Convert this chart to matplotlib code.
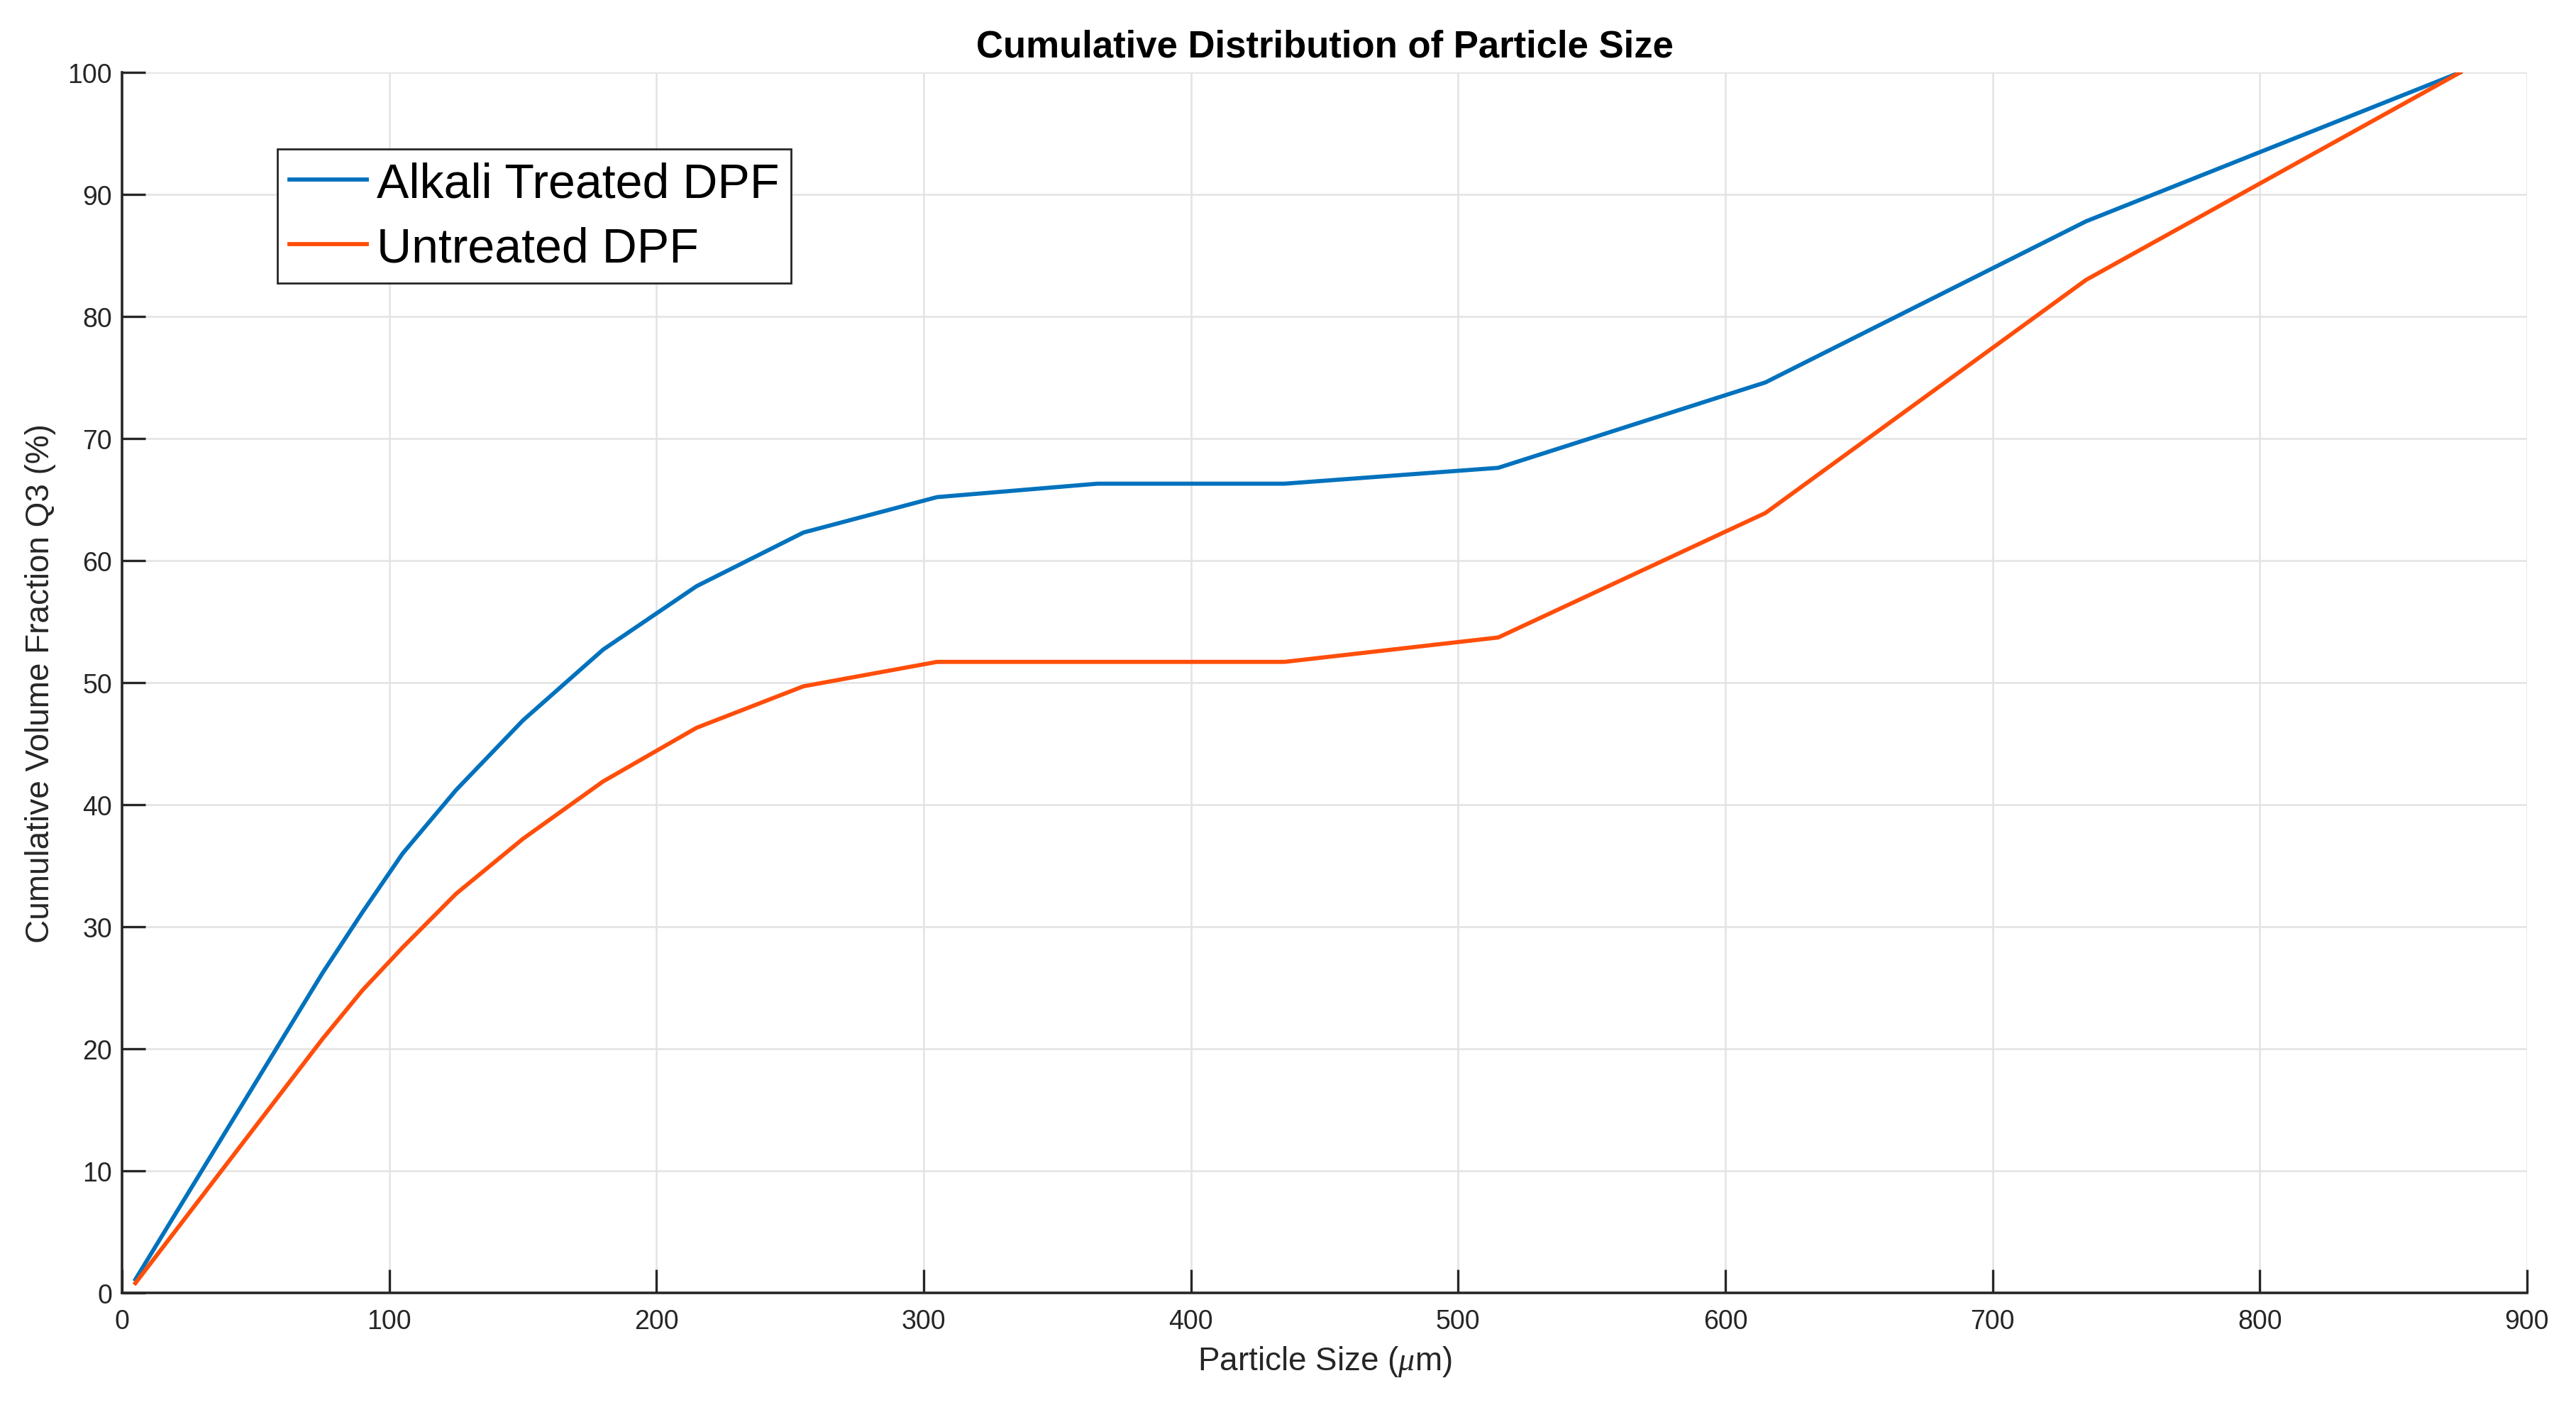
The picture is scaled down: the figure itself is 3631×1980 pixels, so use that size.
import numpy as np
import matplotlib.pyplot as plt

plt.rcParams['font.family'] = ['Liberation Sans', 'DejaVu Sans']
plt.rcParams['mathtext.fontset'] = 'custom'
plt.rcParams['mathtext.it'] = 'Liberation Serif:italic'

# Data
size_um = [5, 75, 90, 105, 125, 150, 180, 215, 255, 305, 365, 435, 515, 615, 735, 875]
alkali = [1.1, 26.2, 31.2, 36.0, 41.2, 46.9, 52.7, 57.9, 62.3, 65.2, 66.3, 66.3, 67.6, 74.6, 87.8, 100.0]
untreated = [0.8, 20.8, 24.8, 28.3, 32.7, 37.2, 41.9, 46.3, 49.7, 51.7, 51.7, 51.7, 53.7, 63.9, 83.0, 100.0]

x_ticks = np.arange(0, 901, 100)
y_ticks = np.arange(0, 101, 10)

dark = '#262626'

fig = plt.figure(figsize=(3631 / 200, 1981 / 200), dpi=200)
ax = fig.add_axes([172 / 3631, 1 - 1823 / 1981, (3562 - 172) / 3631, (1823 - 103) / 1981])

ax.plot(size_um, alkali, color='#0072BD', lw=2.1, label='Alkali Treated DPF')
ax.plot(size_um, untreated, color='#FF4E0A', lw=2.1, label='Untreated DPF')

ax.set_xlim(0, 900)
ax.set_ylim(0, 100)
ax.set_xticks(x_ticks)
ax.set_yticks(y_ticks)
ax.grid(True, color='#E3E3E3', lw=0.9)
ax.set_axisbelow(True)

for side in ['top', 'right']:
    ax.spines[side].set_visible(False)
for side in ['left', 'bottom']:
    ax.spines[side].set_color(dark)
    ax.spines[side].set_linewidth(1.3)

ax.tick_params(direction='in', length=12, width=1.2, colors=dark, labelsize=13.5)
ax.tick_params(axis='x', pad=8)
ax.tick_params(axis='y', pad=5)

ax.set_title('Cumulative Distribution of Particle Size', fontsize=19, fontweight='bold', pad=8)
ax.set_xlabel(r'Particle Size ($\mu$m)', fontsize=16.5, color=dark, labelpad=5)
ax.set_ylabel('Cumulative Volume Fraction Q3 (%)', fontsize=16.5, color=dark, labelpad=6)

leg = ax.legend(loc='upper left', bbox_to_anchor=(391 / 3631, 1 - 211 / 1981),
                bbox_transform=fig.transFigure, fontsize=24.5, frameon=True,
                fancybox=False, framealpha=1, edgecolor=dark, borderpad=0.25,
                handlelength=1.6, handletextpad=0.2, labelspacing=0.4, borderaxespad=0)
leg.get_frame().set_linewidth(1.0)

fig.savefig('out.png', dpi=200)
